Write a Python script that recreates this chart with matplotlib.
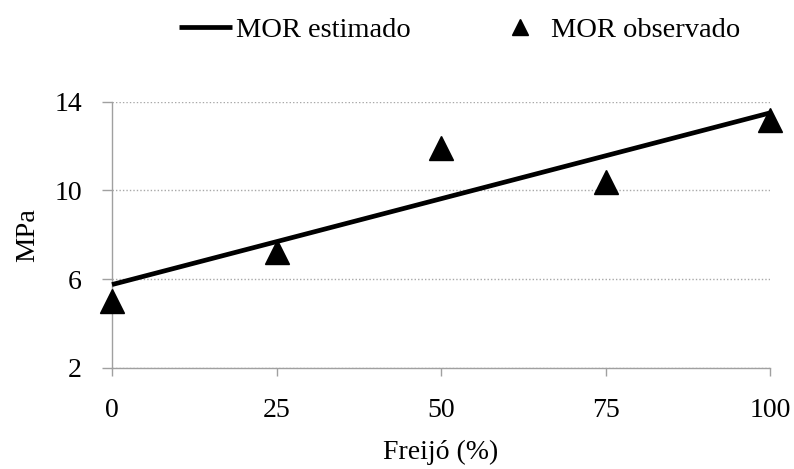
import matplotlib
matplotlib.use("Agg")
import matplotlib.pyplot as plt
from matplotlib.lines import Line2D

# Freijó content (%) and observed modulus of rupture (MPa)
freijo_pct = [0, 25, 50, 75, 100]
mor_observado = [5.0, 7.2, 11.9, 10.4, 13.2]

# Fitted linear estimate, endpoints of the regression line
freijo_fit = [0, 100]
mor_estimado = [5.75, 13.5]

x_ticks = [0, 25, 50, 75, 100]
y_ticks = [2, 6, 10, 14]

plt.rcParams["font.family"] = ["Liberation Serif", "DejaVu Serif"]
plt.rcParams["font.size"] = 20

fig = plt.figure(figsize=(7.94, 4.69), dpi=100)
ax = fig.add_axes([0.141, 0.216, 0.829, 0.567])

ax.plot(freijo_fit, mor_estimado, color="black", lw=3.4, solid_capstyle="butt",
        zorder=3, clip_on=False)
ax.plot(freijo_pct, mor_observado, linestyle="none", marker="^", ms=17,
        color="black", zorder=4, clip_on=False)

ax.set_xlim(0, 100)
ax.set_ylim(2, 14)
ax.set_xticks(x_ticks)
ax.set_yticks(y_ticks)

for s in ("top", "right"):
    ax.spines[s].set_visible(False)
for s in ("left", "bottom"):
    ax.spines[s].set_color("#a0a0a0")
    ax.spines[s].set_linewidth(1.0)

ax.tick_params(axis="both", direction="out", width=1.0,
               color="#a0a0a0", labelsize=20)
ax.tick_params(axis="x", length=5.5, pad=16.5)
ax.tick_params(axis="y", length=7.5, pad=14)

ax.yaxis.grid(True, linestyle=(0, (1, 1.5)), color="#a8a8a8", lw=1.0)
ax.set_axisbelow(True)

ax.set_xlabel("Freijó (%)", fontsize=20, labelpad=12)
ax.set_ylabel("MPa", fontsize=20.5, labelpad=10)

handles = [
    Line2D([], [], color="black", lw=3.4, solid_capstyle="butt"),
    Line2D([], [], linestyle="none", marker="^", ms=11, color="black"),
]
fig.legend(handles, ["MOR estimado", "MOR observado"], loc="center",
           bbox_to_anchor=(0.579, 0.936), ncol=2, frameon=False,
           handlelength=1.86, handletextpad=0.14, columnspacing=2.9,
           fontsize=20.5)

fig.savefig("out.png", dpi=100)
